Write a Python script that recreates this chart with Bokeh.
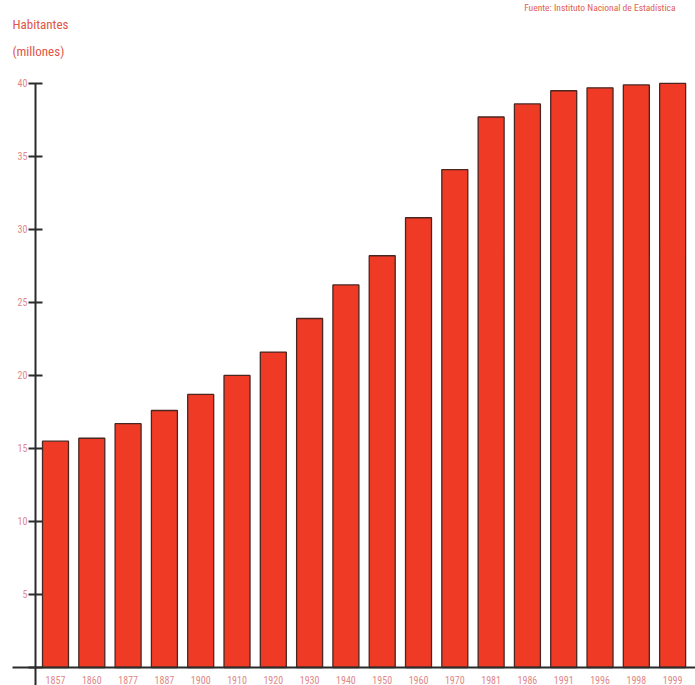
from bokeh.plotting import figure
from bokeh.models import Range1d, FixedTicker, Label
from bokeh.embed import file_html
from bokeh.resources import INLINE

# Data (population of Spain, millions)
years = ["1857", "1860", "1877", "1887", "1900", "1910", "1920", "1930", "1940",
         "1950", "1960", "1970", "1981", "1986", "1991", "1996", "1998", "1999"]
population = [15.5, 15.7, 16.7, 17.6, 18.7, 20.0, 21.6, 23.9, 26.2,
              28.2, 30.8, 34.1, 37.7, 38.6, 39.5, 39.7, 39.9, 40.0]
y_ticks = [0, 5, 10, 15, 20, 25, 30, 35, 40]

FONT = "Liberation Sans Narrow, Roboto Condensed, Roboto, sans-serif"
AXIS_COLOR = "#2b2b2b"
LABEL_COLOR = "#e08888"

idx = list(range(len(years)))

p = figure(width=695, height=685,
           x_range=Range1d(-1.515, 17.63), y_range=Range1d(-1.233, 45.68),
           output_backend="svg", toolbar_location=None, min_border=0)
p.title.visible = False
p.outline_line_color = None
p.grid.visible = False
p.background_fill_color = "white"
p.border_fill_color = "white"

p.vbar(x=idx, top=population, bottom=0, width=0.716,
       fill_color="#ef3b25", line_color="#4a2620", line_width=1.3)

# x axis
xa = p.xaxis[0]
xa.fixed_location = 0
xa.bounds = (-1.185, 17.63)
xa.ticker = FixedTicker(ticks=idx)
xa.major_label_overrides = {i: y for i, y in zip(idx, years)}
xa.major_tick_line_color = None
xa.minor_tick_line_color = None
xa.axis_line_color = AXIS_COLOR
xa.axis_line_width = 2
xa.major_label_standoff = 3
xa.major_label_text_color = LABEL_COLOR
xa.major_label_text_font = FONT
xa.major_label_text_font_size = "10px"

# y axis
ya = p.yaxis[0]
ya.fixed_location = -0.551
ya.bounds = (-1.233, 40)
ya.ticker = FixedTicker(ticks=y_ticks)
ya.major_label_overrides = {0: ""}
ya.minor_tick_line_color = None
ya.major_tick_in = 7
ya.major_tick_out = 7
ya.major_tick_line_color = AXIS_COLOR
ya.major_tick_line_width = 2
ya.axis_line_color = AXIS_COLOR
ya.axis_line_width = 2
ya.major_label_standoff = 1
ya.major_label_text_color = LABEL_COLOR
ya.major_label_text_font = FONT
ya.major_label_text_font_size = "10px"

# texts
p.add_layout(Label(x=-1.185, y=44.04, text="Habitantes", text_font=FONT,
                   text_font_size="13px", text_color="#e05545", text_baseline="middle"))
p.add_layout(Label(x=-1.185, y=42.19, text="(millones)", text_font=FONT,
                   text_font_size="13px", text_color="#e05545", text_baseline="middle"))
p.add_layout(Label(x=17.08, y=45.2, text="Fuente: Instituto Nacional de Estadística",
                   text_font=FONT, text_font_size="9.5px", text_color="#e06050",
                   text_align="right", text_baseline="middle"))

open("out.html", "w").write(file_html(p, INLINE))
